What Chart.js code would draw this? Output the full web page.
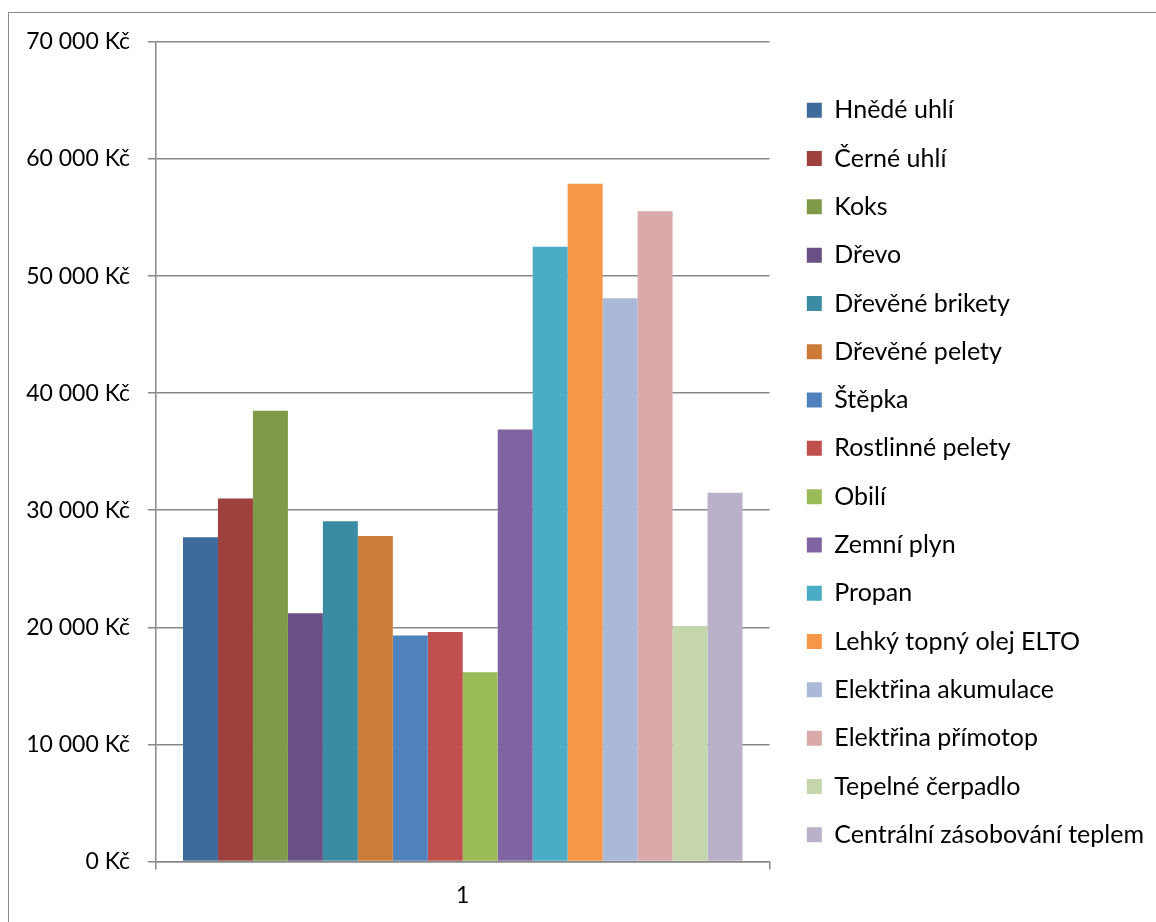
<!DOCTYPE html>
<html>
<head>
<meta charset="utf-8">
<script src="https://cdn.jsdelivr.net/npm/chart.js@4"></script>
<style>
    html, body { margin: 0; padding: 0; background: #fff; }
    #frame {
        position: absolute;
        left: 8px;
        top: 12px;
        width: 1160px;
        height: 930px;
        border: 1.5px solid #8a8a8a;
    }
    #wrap { position: absolute; left: 0; top: 0; width: 1156px; height: 922px; }
</style>
</head>
<body>
<div id="frame"></div>
<div id="wrap"><canvas id="costChart" width="1156" height="922"></canvas></div>
<script>
// Annual heating cost per fuel type
const categories = ['1'];
const fuels = [
    'Hnědé uhlí', 'Černé uhlí', 'Koks', 'Dřevo', 'Dřevěné brikety', 'Dřevěné pelety',
    'Štěpka', 'Rostlinné pelety', 'Obilí', 'Zemní plyn', 'Propan', 'Lehký topný olej ELTO',
    'Elektřina akumulace', 'Elektřina přímotop', 'Tepelné čerpadlo', 'Centrální zásobování teplem'
];
const costs = [
    27700, 31000, 38500, 21200, 29050, 27800,
    19300, 19600, 16150, 36900, 52500, 57900,
    48100, 55550, 20100, 31500
];
const colors = [
    '#3f6a9c', '#9e413e', '#7f9a48', '#695185', '#3b8ba3', '#cc7b38',
    '#4f81bd', '#c0504d', '#9bbb59', '#8064a2', '#4bacc6', '#f79646',
    '#aab9d7', '#d9aaa9', '#c6d6ac', '#bab0c9'
];

const gridColor = '#878787';
const tickFont = { family: 'Lato', size: 23 };
const legendFont = { family: 'Lato', size: 25 };

const datasets = fuels.map(function (name, i) {
    return {
        label: name,
        data: [costs[i]],
        backgroundColor: colors[i],
        borderWidth: 0,
        barPercentage: 1,
        categoryPercentage: 0.912
    };
});

function formatKc(value) {
    return value.toString().replace(/\B(?=(\d{3})+(?!\d))/g, ' ') + ' Kč';
}

Chart.defaults.font.family = 'Lato';
Chart.defaults.color = '#000';

// invisible axis used only to reserve a fixed strip of space
function spacer(position, size) {
    return {
        position: position,
        display: true,
        afterFit: function (scale) {
            if (scale.isHorizontal()) scale.height = size; else scale.width = size;
        },
        grid: { display: false, drawTicks: false },
        border: { display: false },
        ticks: { display: false }
    };
}

new Chart(document.getElementById('costChart').getContext('2d'), {
    type: 'bar',
    data: { labels: categories, datasets: datasets },
    options: {
        responsive: false,
        animation: false,
        layout: { padding: { left: 10, top: 24, right: 2, bottom: 1 } },
        plugins: {
            tooltip: { enabled: false },
            legend: {
                position: 'right',
                maxWidth: 420,
                labels: {
                    font: legendFont,
                    color: '#000',
                    boxWidth: 15,
                    boxHeight: 15,
                    padding: 23.3
                }
            }
        },
        scales: {
            x: {
                grid: {
                    display: true,
                    drawOnChartArea: false,
                    offset: true,
                    color: gridColor,
                    lineWidth: 1.5,
                    tickLength: 8
                },
                border: { color: gridColor, width: 1.5 },
                ticks: { font: tickFont, color: '#000', padding: 12 }
            },
            y: {
                min: 0,
                max: 70000,
                afterFit: function (scale) { scale.width = 146; },
                grid: { color: gridColor, lineWidth: 1.5, tickLength: 8 },
                border: { color: gridColor, width: 1.5 },
                ticks: {
                    stepSize: 10000,
                    font: tickFont,
                    color: '#000',
                    padding: 18,
                    callback: function (value) { return formatKc(value); }
                }
            },
            topGap: spacer('top', 18),
            rightGap: spacer('right', 14)
        }
    }
});
</script>
</body>
</html>
